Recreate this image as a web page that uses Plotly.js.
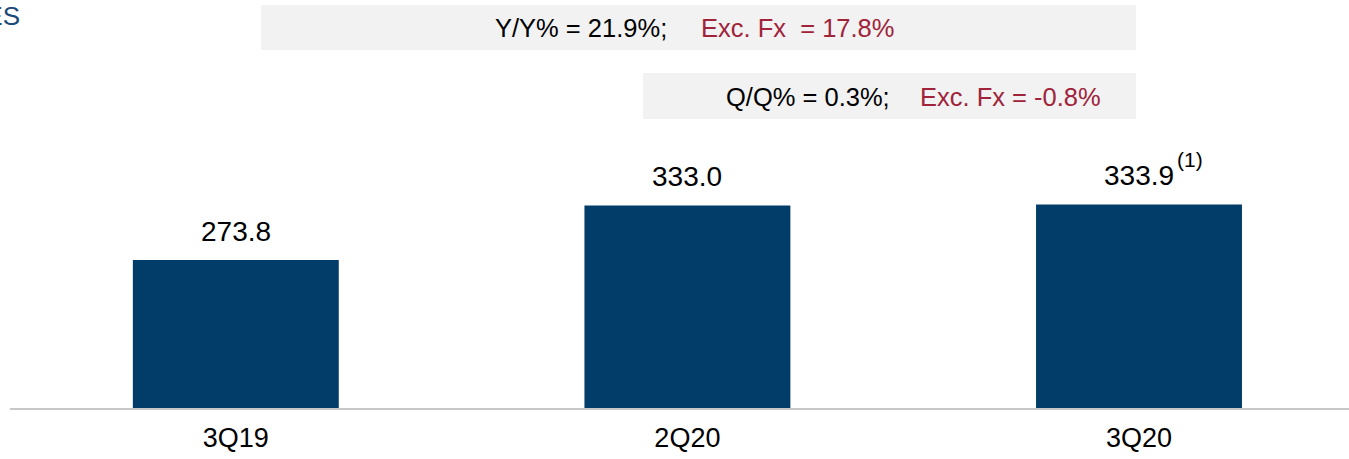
<!DOCTYPE html>
<html>
<head>
<meta charset="utf-8">
<script src="https://cdn.plot.ly/plotly-3.0.1.min.js"></script>
<style>html,body{margin:0;padding:0;background:#fff;}#chart{width:1349px;height:459px;}</style>
</head>
<body>
<div id="chart"></div>
<script>
// ---- data ----
const categories = ['3Q19', '2Q20', '3Q20'];
const values = [273.8, 333.0, 333.9];
const valueLabels = ['273.8', '333.0', '333.9'];
const footnoteMarks = ['', '', '(1)'];
const titleText = 'REVENUES';
const yyText = 'Y/Y% = 21.9%;';
const yyFxText = 'Exc. Fx&nbsp;&nbsp;= 17.8%';
const qqText = 'Q/Q% = 0.3%;';
const qqFxText = 'Exc. Fx = -0.8%';

// ---- layout helpers (pixel -> paper) ----
const W = 1349, H = 459, ML = 10, MR = 0, MT = 0, MB = 51;
const PW = W - ML - MR, PH = H - MT - MB;
const px = x => (x - ML) / PW;
const py = y => (H - MB - y) / PH;

const navy = '#023d69';
const red = '#a0233a';
const font = 'Liberation Sans, Arial, sans-serif';

const annotations = [];
categories.forEach((c, i) => {
  annotations.push({
    x: c, y: values[i], xref: 'x', yref: 'y',
    text: valueLabels[i], showarrow: false,
    xanchor: 'center', yanchor: 'middle', yshift: 29,
    font: {family: font, size: 28, color: '#000'}
  });
  if (footnoteMarks[i]) {
    annotations.push({
      x: c, y: values[i], xref: 'x', yref: 'y',
      text: footnoteMarks[i], showarrow: false,
      xanchor: 'left', yanchor: 'middle', xshift: 36, yshift: 45,
      font: {family: font, size: 21, color: '#000'}
    });
  }
});
annotations.push(
  {xref: 'paper', yref: 'paper', x: px(22), y: py(16), xanchor: 'right', yanchor: 'middle',
   text: titleText, showarrow: false, font: {family: font, size: 26, color: '#1b4a7a'}},
  {xref: 'paper', yref: 'paper', x: px(493), y: py(28), xanchor: 'left', yanchor: 'middle',
   text: yyText, showarrow: false, font: {family: font, size: 25.5, color: '#000'}},
  {xref: 'paper', yref: 'paper', x: px(699), y: py(28), xanchor: 'left', yanchor: 'middle',
   text: yyFxText, showarrow: false, font: {family: font, size: 25.5, color: red}},
  {xref: 'paper', yref: 'paper', x: px(724), y: py(97), xanchor: 'left', yanchor: 'middle',
   text: qqText, showarrow: false, font: {family: font, size: 25.5, color: '#000'}},
  {xref: 'paper', yref: 'paper', x: px(918), y: py(97), xanchor: 'left', yanchor: 'middle',
   text: qqFxText, showarrow: false, font: {family: font, size: 25.5, color: red}}
);

const shapes = [
  {type: 'rect', xref: 'paper', yref: 'paper', x0: px(261), x1: px(1136), y0: py(50), y1: py(5),
   fillcolor: '#f2f2f2', line: {width: 0}, layer: 'below'},
  {type: 'rect', xref: 'paper', yref: 'paper', x0: px(643), x1: px(1136), y0: py(119), y1: py(73),
   fillcolor: '#f2f2f2', line: {width: 0}, layer: 'below'}
];

const trace = {
  type: 'bar', x: categories, y: values, width: 0.456,
  marker: {color: navy, line: {width: 0}},
  hoverinfo: 'skip'
};

const layout = {
  width: W, height: H,
  margin: {l: ML, r: MR, t: MT, b: MB, pad: 0},
  paper_bgcolor: '#fff', plot_bgcolor: '#fff',
  showlegend: false,
  xaxis: {
    type: 'category', range: [-0.5, 2.465],
    showline: true, linecolor: '#c8c8c8', linewidth: 2,
    ticks: '', showgrid: false, zeroline: false,
    tickfont: {family: font, size: 27, color: '#000'},
    ticklabelstandoff: 5
  },
  yaxis: {
    range: [113.3, 555.8], visible: false, showgrid: false, zeroline: false
  },
  annotations: annotations,
  shapes: shapes
};

Plotly.newPlot('chart', [trace], layout, {displayModeBar: false, staticPlot: true});
</script>
</body>
</html>
